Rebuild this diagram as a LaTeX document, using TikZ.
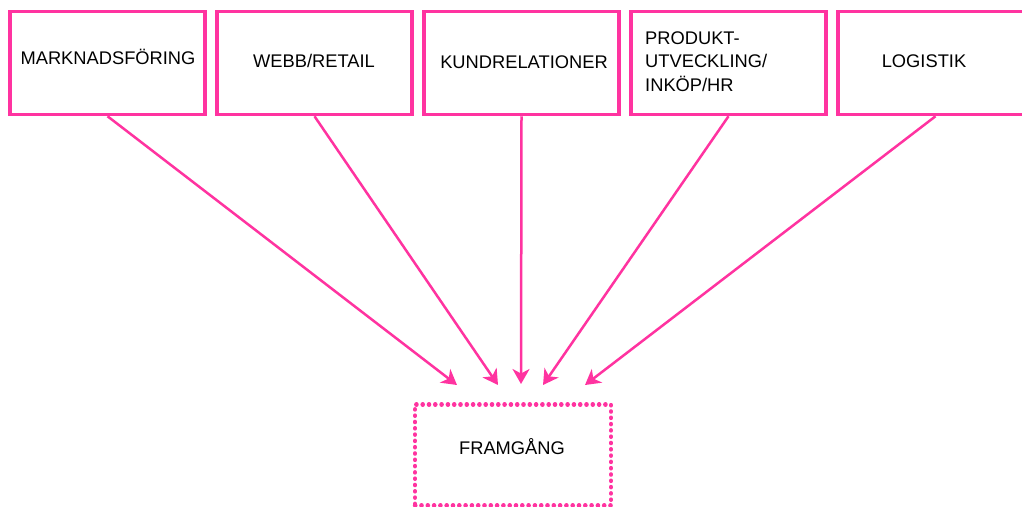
\documentclass[tikz,border=0pt]{standalone}
\usepackage{fontspec}
\setmainfont{Liberation Sans}
\usepackage{xcolor}
\usetikzlibrary{arrows.meta, positioning}
\definecolor{hotpink}{RGB}{255,51,160}

\begin{document}
\begin{tikzpicture}[x=1pt, y=-1pt, node distance=8.5pt,
  area/.style={rectangle, draw=hotpink, line width=3.5pt, minimum width=195pt, minimum height=103pt, inner sep=0pt},
  goal/.style={rectangle, draw=hotpink, line width=4.2pt, line cap=round, dash pattern=on 0.4pt off 5.9pt, minimum width=196pt, minimum height=101pt, inner sep=0pt},
  caption/.style={font=\fontsize{18.3}{23.5}\selectfont, inner sep=0pt},
  feed/.style={-{Stealth[length=15pt, width=17pt, inset=4.5pt]}, draw=hotpink, line width=2.5pt}]

            \useasboundingbox (0,0) rectangle (1022,506);

            \node[area] (mark) at (107.5,63) {};
            \node[area, right=of mark] (webb) {};
            \node[area, right=of webb] (kund) {};
            \node[area, right=of kund] (prod) {};
            \node[area, right=of prod] (logi) {};
            \node[goal] (fram) at (513,455) {};

            \node[caption] (mark-txt) at (108,57) {MARKNADSFÖRING};
            \node[caption] (webb-txt) at (314,61) {WEBB/RETAIL};
            \node[caption] (kund-txt) at (524,62) {KUNDRELATIONER};
            \node[caption, anchor=west, align=left] (prod-txt) at (645,61.5) {PRODUKT-\\UTVECKLING/\\INKÖP/HR};
            \node[caption] (logi-txt) at (924,61) {LOGISTIK};
            \node[caption] (fram-txt) at (512,447) {FRAMGÅNG};

            \coordinate (in1) at (457,385);
            \coordinate (in2) at (498,385);
            \coordinate (in3) at (521,384);
            \coordinate (in4) at (543,385);
            \coordinate (in5) at (585,385);

            \draw[feed] (mark.south) -- (in1);
            \draw[feed] (webb.south) -- (in2);
            \draw[feed] (kund.south) -- (in3);
            \draw[feed] (prod.south) -- (in4);
            \draw[feed] (logi.south) -- (in5);

\end{tikzpicture}
\end{document}
